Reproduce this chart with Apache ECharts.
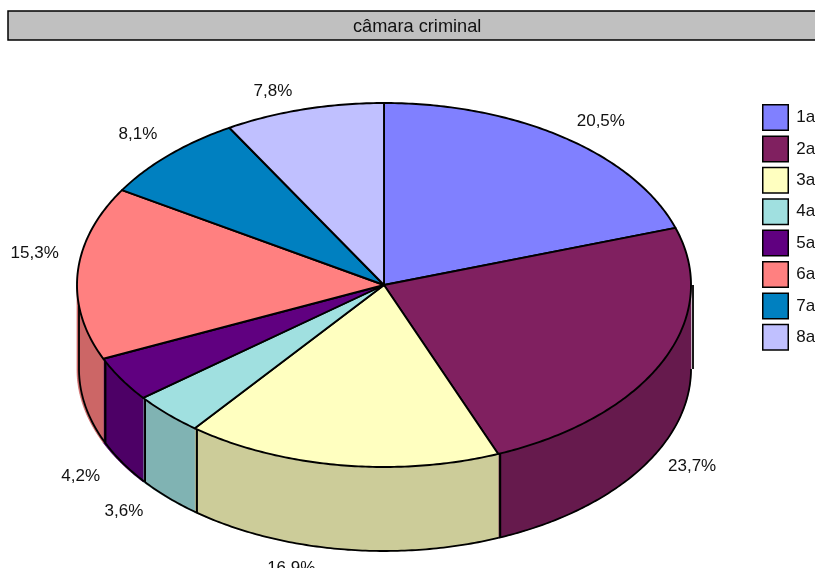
<!DOCTYPE html>
<html><head><meta charset="utf-8">
<style>html,body{margin:0;padding:0;background:#fff}#c{width:815px;height:568px}</style>
<script src="https://cdn.jsdelivr.net/npm/echarts@6/dist/echarts.min.js"></script>
</head><body><div id="c"></div>
<script>
const titleText = 'câmara criminal';
const categories = ['1a','2a','3a','4a','5a','6a','7a','8a'];
const values = [20.5,23.7,16.9,3.6,4.2,15.3,8.1,7.8];
const topColors = ['#8080FF','#802060','#FFFFC0','#A0E0E0','#600080','#FF8080','#0080C0','#C0C0FF'];
const wallColors = ['#6666CC','#661A4D','#CCCC99','#80B3B3','#4D0066','#CC6666','#006699','#9999CC'];
const labelNudge = [[10,6],[-12,9],[-43,-8],[-11,-6],[-1,-1],[3,-18],[1,-1],[-19,8]];
const edgeTrim = [0,2.0,0.8,1.7,1.0,1.7,1.4,2.2,0];

const cx = 384, cy = 285, rx = 307, ry = 182, depth = 84, wallLineShift = 2;
const total = values.reduce((a,b)=>a+b,0);
const font = '17px "Liberation Sans", Arial, sans-serif';
const rad = d => d*Math.PI/180;
const pt = (deg,dy=0,dx=0) => [cx+dx+rx*Math.sin(rad(deg)), cy-ry*Math.cos(rad(deg))+dy];
function cumBefore(i){ let s=0; for(let k=0;k<i;k++) s+=values[k]; return s; }
function edge(i){ return cumBefore(i)/total*360-edgeTrim[i]; }
function arc(a,b,dy,dxFn){ const n=Math.max(2,Math.ceil(Math.abs(b-a)*1.5)); const o=[]; for(let i=0;i<=n;i++){ const d=a+(b-a)*i/n; o.push(pt(d,dy,dxFn?dxFn(d):0)); } return o; }
const leftDrift = d => wallLineShift*Math.max(0,-Math.sin(rad(d)));

function makeRender(i){
  return function(params, api){
    const v = api.value(0);
    const a = edge(i), b = edge(i+1);
    const ch = [];
    const wa = Math.max(a,90), wb = Math.min(b,270);
    if (wb>wa){
      ch.push({type:'polygon',z2:1,shape:{points:arc(wa,wb,0).concat(arc(wb,wa,depth))},style:{fill:wallColors[i],stroke:wallColors[i],lineWidth:0.7}});
      ch.push({type:'polyline',z2:2,shape:{points:arc(wb,wa,depth,leftDrift)},style:{fill:null,stroke:'#000',lineWidth:1.8}});
      [wa,wb].forEach(d=>{ ch.push({type:'polyline',z2:2,shape:{points:[pt(d,0,wallLineShift),pt(d,depth,wallLineShift)]},style:{fill:null,stroke:'#000',lineWidth:1.8}}); });
    }
    ch.push({type:'polygon',z2:3,shape:{points:[[cx,cy]].concat(arc(a,b,0))},style:{fill:topColors[i],stroke:'#000',lineWidth:1.9,lineJoin:'round'}});
    const mid=(a+b)/2, sn=Math.sin(rad(mid)), cs=Math.cos(rad(mid)), f=1.15;
    ch.push({type:'text',z2:4,x:cx+rx*f*sn+labelNudge[i][0],y:cy-ry*f*cs+(cs<0?depth:0)+labelNudge[i][1],
      style:{text:String(v).replace('.',',')+'%',font:font,fill:'#111',align:'center',verticalAlign:'middle'}});
    return {type:'group',children:ch};
  };
}

const chart = echarts.init(document.getElementById('c'),null,{renderer:'canvas'});
chart.setOption({
  animation:false,
  backgroundColor:'#fff',
  title:{text:titleText,left:353,top:18,padding:0,textStyle:{fontFamily:'"Liberation Sans", Arial, sans-serif',fontSize:18.2,fontWeight:'normal',color:'#111'}},
  legend:{orient:'vertical',left:762,top:104,padding:0,itemWidth:25.5,itemHeight:25.5,itemGap:4.4,icon:'rect',selectedMode:false,
    data:categories,itemStyle:{borderColor:'#000',borderWidth:1.5},
    textStyle:{fontFamily:'"Liberation Sans", Arial, sans-serif',fontSize:17,color:'#111',padding:[0,0,0,3]}},
  graphic:[
    {type:'rect',z:-1,shape:{x:8,y:11,width:830,height:29},style:{fill:'#C0C0C0',stroke:'#000',lineWidth:1.5}}
  ],
  series:categories.map((name,i)=>({type:'custom',name:name,coordinateSystem:'none',silent:true,
    itemStyle:{color:topColors[i]},renderItem:makeRender(i),data:[[values[i]]]}))
});
</script></body></html>
